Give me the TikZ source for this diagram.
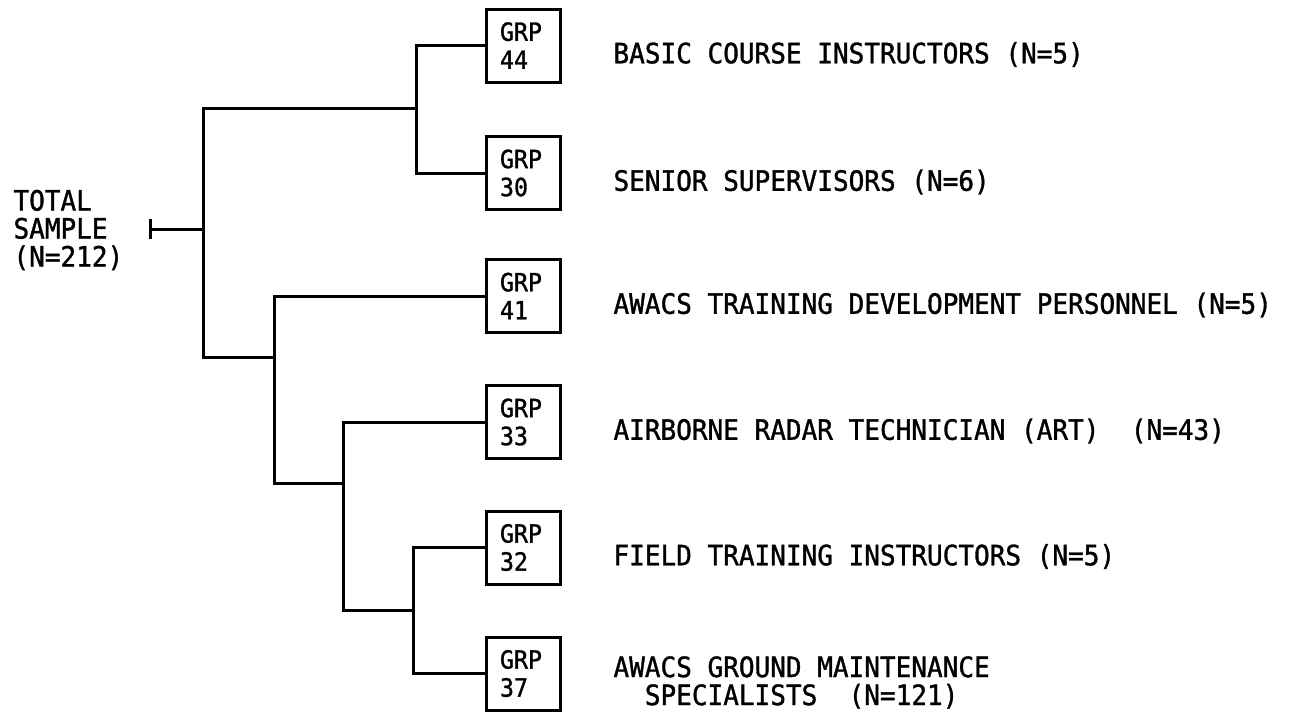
\documentclass[tikz,border=0pt]{standalone}
\usepackage{fontspec}
\setmonofont{DejaVu Sans Mono}[FakeStretch=0.93, FakeBold=1.2]
\usetikzlibrary{positioning}

\begin{document}
\begin{tikzpicture}[x=1pt, y=-1pt, line width=3pt,
    font=\ttfamily\fontsize{28}{28}\selectfont,
    grpbox/.style={draw, text width=46pt, align=left, inner xsep=14pt,
                   inner ysep=0pt, minimum height=73pt,
                   font=\ttfamily\fontsize{25}{28}\selectfont},
    grplabel/.style={anchor=west, align=left, inner sep=0pt}]
  \useasboundingbox (0,0) rectangle (1289,713);
  \foreach \g/\y/\lab in {44/45.5/{BASIC COURSE INSTRUCTORS (N=5)},
                          30/173/{SENIOR SUPERVISORS (N=6)},
                          41/296/{AWACS TRAINING DEVELOPMENT PERSONNEL (N=5)},
                          33/422/{AIRBORNE RADAR TECHNICIAN (ART)~ (N=43)},
                          32/547.5/{FIELD TRAINING INSTRUCTORS (N=5)},
                          37/673.5/{AWACS GROUND MAINTENANCE\\\phantom{AA}SPECIALISTS~ (N=121)}}{%
    \node[grpbox] (g\g) at (523,\y) {GRP\\\g};
    \node[grplabel] (l\g) at (612,\y+9) {\lab};}
  \node[grplabel] (total) at (12,230) {TOTAL\\SAMPLE\\(N=212)};
  \coordinate (tick) at (150,229);
  \coordinate (root) at (203,229);
  \coordinate (j1) at (416,108);
  \coordinate (j4) at (274,357);
  \coordinate (j3) at (343,483);
  \coordinate (j2) at (413,610);
  \draw (tick) -- (root);
  \draw ([yshift=-10pt]tick) -- ([yshift=10pt]tick);
  \draw (j1) -- (j1 -| root) -- (j4 -| root) -- (j4);
  \draw (g44.west) -| (j1) |- (g30.west);
  \draw (g41.west) -| (j4) |- (j3);
  \draw (g33.west) -| (j3) |- (j2);
  \draw (g32.west) -| (j2) |- (g37.west);
\end{tikzpicture}
\end{document}
